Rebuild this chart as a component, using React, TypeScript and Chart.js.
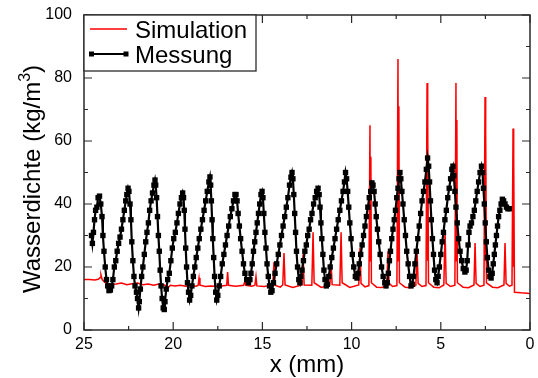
import React, { useEffect, useRef } from "react";
import { Chart, registerables } from "chart.js";

Chart.register(...registerables);

const FONT = '"Liberation Sans", Arial, Helvetica, sans-serif';

// Legend / series labels
const seriesLabels = ["Simulation", "Messung"];
const xTitle = "x (mm)";
const yTitleMain = "Wasserdichte (kg/m";
const yTitleSup = "3";
const yTitleEnd = ")";

// Axis ticks
const xMajorTicks = [0, 5, 10, 15, 20, 25];
const xMinorTicks = [2.5, 7.5, 12.5, 17.5, 22.5];
const yMajorTicks = [0, 20, 40, 60, 80, 100];
const yMinorTicks = [10, 30, 50, 70, 90];

// Simulation (red): [x mm, density]
const simulation: [number, number][] = [
  [25, 16], [24.7, 16], [24.4, 15.9], [24.2, 16.1], [24.1, 16.6], [24.05, 17.5], [23.98, 16], [23.8, 15],
  [23.5, 14.5], [23.2, 14.6], [22.9, 14.9], [22.6, 14.4], [22.3, 14.7], [22.0, 14.9], [21.7, 14.4],
  [21.4, 14.6], [21.1, 14.2], [20.8, 14.6], [20.5, 14.3], [20.3, 13.4], [20.15, 14.2], [19.9, 14.0],
  [19.6, 14.2], [19.3, 13.9], [19.0, 14.1], [18.7, 13.9], [18.6, 14.2], [18.55, 16.5], [18.5, 14.2],
  [18.2, 13.8], [17.9, 14.0], [17.6, 13.9], [17.3, 14.0], [17.0, 14.2], [16.95, 18.4], [16.9, 14.2],
  [16.5, 13.9], [16.05, 14.2], [15.98, 15.5], [15.93, 14.2], [15.6, 13.9], [15.42, 14.2], [15.36, 17],
  [15.31, 14], [14.9, 13.8], [14.42, 14.3], [14.35, 21.6], [14.29, 14.2], [14.0, 13.6], [13.86, 14.3],
  [13.79, 24.4], [13.73, 14.3], [13.3, 13.5], [12.79, 14.3], [12.72, 24], [12.66, 14.3], [12.23, 14.2],
  [12.16, 31], [12.1, 15], [11.7, 13.5], [11.22, 14.2], [11.15, 21], [11.09, 14.4], [10.66, 14.2],
  [10.59, 31], [10.53, 15], [10.1, 13.5], [9.6, 14.3], [9.53, 26], [9.47, 14.8], [9.25, 13.7],
  [9.03, 14.1], [8.97, 65], [8.95, 22], [8.92, 55], [8.89, 15], [8.6, 13.6], [8.3, 13.5], [8.03, 14.1],
  [7.96, 25], [7.9, 14.8], [7.7, 13.8], [7.46, 14.1], [7.4, 86], [7.38, 22], [7.35, 71], [7.32, 15],
  [7.0, 13.6], [6.7, 13.4], [6.4, 14.1], [6.33, 25], [6.27, 14.8], [6.05, 13.8], [5.83, 14.1],
  [5.77, 78.4], [5.75, 22], [5.72, 67], [5.69, 15], [5.4, 13.6], [5.1, 13.4], [4.83, 14.3],
  [4.76, 31.7], [4.7, 14.8], [4.45, 13.8], [4.21, 14.2], [4.15, 78.4], [4.13, 22], [4.1, 66.7],
  [4.07, 15], [3.75, 13.6], [3.45, 13.4], [3.14, 14.3], [3.08, 27.6], [3.02, 14.8], [2.8, 13.8],
  [2.58, 14.2], [2.52, 74], [2.5, 22], [2.47, 64], [2.44, 15], [2.1, 13.6], [1.8, 13.4], [1.46, 14.3],
  [1.4, 27.6], [1.34, 14.8], [1.15, 13.9], [1.01, 14.2], [0.95, 64], [0.93, 20], [0.9, 56], [0.87, 12],
  [0.5, 11.8], [0, 11.6],
];

// Measurement (black squares): [x mm, density]
const measurement: [number, number][] = [
  [24.58, 30], [24.53, 27.5], [24.47, 31], [24.41, 35], [24.35, 38], [24.28, 39], [24.21, 42], [24.13, 42.5], [24.06, 40],
  [23.99, 36], [23.94, 30], [23.88, 25], [23.81, 20], [23.74, 16], [23.67, 14], [23.6, 12.5], [23.52, 12.7], [23.45, 14],
  [23.38, 16], [23.3, 20], [23.22, 22], [23.14, 25], [23.06, 27.5], [22.98, 29.5], [22.9, 32], [22.82, 35], [22.74, 38], [22.66, 41], [22.6, 43], [22.53, 45], [22.48, 44],
  [22.42, 40], [22.37, 35], [22.32, 28], [22.26, 22], [22.2, 17], [22.14, 14], [22.06, 12], [22.0, 10], [21.94, 7], [21.9, 9],
  [21.84, 13], [21.77, 17], [21.7, 20], [21.62, 24], [21.54, 28], [21.47, 31], [21.39, 34], [21.32, 38], [21.24, 41], [21.16, 43.5], [21.08, 46], [21.02, 47.6], [20.98, 46],
  [20.93, 42], [20.88, 36], [20.83, 30], [20.78, 25], [20.73, 19], [20.68, 14], [20.62, 10], [20.56, 7], [20.5, 6.5], [20.46, 9],
  [20.39, 13], [20.31, 16], [20.22, 18], [20.13, 22], [20.05, 26], [19.97, 29], [19.88, 31], [19.79, 34], [19.71, 37], [19.62, 40], [19.54, 42], [19.47, 43.5], [19.42, 42],
  [19.38, 38], [19.34, 32], [19.3, 26], [19.25, 20], [19.2, 15], [19.14, 12], [19.08, 9.5], [19.02, 11],
  [18.95, 14], [18.87, 17], [18.79, 20], [18.71, 23], [18.62, 26], [18.54, 29], [18.45, 32], [18.36, 35], [18.27, 38], [18.18, 41], [18.09, 44], [18.0, 47], [17.94, 48.6], [17.9, 46],
  [17.86, 41], [17.82, 35], [17.78, 29], [17.73, 23], [17.68, 17], [17.62, 12], [17.56, 9.5], [17.5, 11],
  [17.42, 14], [17.34, 17], [17.25, 21], [17.16, 24], [17.07, 27], [16.98, 30], [16.89, 33], [16.8, 36], [16.71, 38.5], [16.62, 41], [16.54, 43], [16.48, 43], [16.42, 41],
  [16.36, 37], [16.29, 33], [16.22, 29], [16.14, 25], [16.06, 21], [15.98, 18], [15.88, 16], [15.78, 15], [15.7, 16],
  [15.64, 18], [15.57, 21], [15.5, 25], [15.43, 28], [15.36, 31], [15.29, 34], [15.22, 37], [15.15, 40], [15.08, 43], [15.02, 44], [14.97, 42],
  [14.92, 37], [14.86, 31], [14.8, 26], [14.74, 21], [14.67, 17], [14.6, 14], [14.53, 12], [14.46, 12.5],
  [14.38, 15], [14.29, 18], [14.2, 21], [14.11, 24], [14.02, 27], [13.93, 30], [13.84, 33], [13.75, 36], [13.66, 39], [13.57, 42], [13.48, 46], [13.4, 48.5], [13.34, 50], [13.29, 48],
  [13.24, 43], [13.19, 37], [13.14, 31], [13.09, 25], [13.03, 20], [12.96, 16], [12.9, 15], [12.85, 17],
  [12.78, 19], [12.7, 22], [12.62, 25], [12.54, 27], [12.46, 30], [12.38, 32], [12.3, 35], [12.22, 37], [12.13, 40], [12.04, 42], [11.96, 44], [11.88, 45], [11.82, 43],
  [11.77, 39], [11.72, 34], [11.67, 29], [11.61, 24], [11.55, 19], [11.49, 16], [11.42, 14], [11.36, 14.5],
  [11.28, 17], [11.2, 20], [11.11, 23], [11.02, 26], [10.93, 29], [10.84, 32], [10.75, 35], [10.66, 38], [10.57, 41], [10.48, 44], [10.4, 47], [10.34, 50], [10.28, 48],
  [10.22, 44], [10.16, 39], [10.1, 34], [10.03, 29], [9.96, 24], [9.88, 20], [9.79, 17], [9.7, 16.5], [9.64, 18],
  [9.57, 21], [9.49, 24], [9.41, 27], [9.33, 30], [9.25, 33], [9.17, 36], [9.09, 39], [9.01, 42], [8.93, 44], [8.86, 46.7], [8.8, 46], [8.74, 44],
  [8.68, 40], [8.62, 36], [8.55, 32], [8.48, 28], [8.4, 24], [8.32, 20], [8.23, 17], [8.14, 15], [8.07, 14], [8.0, 15],
  [7.94, 18], [7.88, 22], [7.82, 25], [7.75, 29], [7.68, 32], [7.61, 35], [7.54, 38], [7.47, 42], [7.4, 45], [7.34, 48], [7.29, 50], [7.24, 48],
  [7.18, 44], [7.12, 40], [7.05, 35], [6.98, 30], [6.91, 25], [6.83, 21], [6.75, 17], [6.67, 14], [6.6, 14.5],
  [6.53, 17], [6.45, 21], [6.37, 25], [6.29, 29], [6.21, 33], [6.13, 37], [6.05, 41], [5.97, 44], [5.89, 47], [5.81, 51], [5.74, 54.6], [5.68, 52],
  [5.63, 47], [5.58, 41], [5.53, 35], [5.47, 29], [5.41, 24], [5.35, 19], [5.28, 16], [5.21, 15], [5.15, 17],
  [5.08, 20], [5.0, 24], [4.92, 28], [4.85, 31], [4.77, 35], [4.69, 38], [4.61, 42], [4.53, 45], [4.45, 48], [4.38, 51], [4.32, 52], [4.27, 49],
  [4.21, 44], [4.15, 39], [4.08, 34], [4.0, 29], [3.92, 25], [3.83, 22], [3.74, 19.5], [3.65, 18.4], [3.58, 19],
  [3.52, 22], [3.47, 27], [3.42, 31], [3.36, 33], [3.28, 34], [3.2, 36], [3.12, 38], [3.04, 41], [2.96, 44], [2.88, 47], [2.8, 50], [2.72, 52], [2.66, 50],
  [2.61, 45], [2.56, 40], [2.51, 34], [2.45, 28], [2.39, 23], [2.32, 19], [2.25, 17], [2.18, 16.5], [2.12, 18],
  [2.06, 21], [2.0, 24], [1.94, 27], [1.88, 30], [1.82, 33], [1.76, 36], [1.69, 38], [1.62, 40], [1.55, 41.5], [1.48, 41], [1.4, 40], [1.32, 39], [1.24, 38.5], [1.16, 38.5],
];

const RED = "#ff0000";
const FRAME = "#2a2a2a";

const framePlugin = {
  id: "frameTicksLegendTitles",
  afterDatasetsDraw(chart: any) {
    const { ctx, chartArea } = chart;
    const { left, right, top, bottom } = chartArea;
    const xs = chart.scales.x;
    const ys = chart.scales.y;
    ctx.save();

    // frame
    ctx.strokeStyle = FRAME;
    ctx.lineWidth = 1.5;
    ctx.strokeRect(left, top, right - left, bottom - top);

    // ticks (inward, all four sides)
    ctx.lineWidth = 1.2;
    ctx.beginPath();
    const xt = (v: number, len: number) => {
      const p = xs.getPixelForValue(v);
      ctx.moveTo(p, bottom);
      ctx.lineTo(p, bottom - len);
      ctx.moveTo(p, top);
      ctx.lineTo(p, top + len);
    };
    const yt = (v: number, len: number) => {
      const p = ys.getPixelForValue(v);
      ctx.moveTo(left, p);
      ctx.lineTo(left + len, p);
      ctx.moveTo(right, p);
      ctx.lineTo(right - len, p);
    };
    xMajorTicks.forEach((v) => xt(v, 8));
    xMinorTicks.forEach((v) => xt(v, 4));
    yMajorTicks.forEach((v) => yt(v, 8));
    yMinorTicks.forEach((v) => yt(v, 4));
    ctx.stroke();

    // legend box
    const bw = 172;
    const bh = 56;
    ctx.fillStyle = "#ffffff";
    ctx.fillRect(left, top, bw, bh);
    ctx.strokeStyle = FRAME;
    ctx.lineWidth = 1.3;
    ctx.strokeRect(left, top, bw, bh);

    ctx.font = `24px ${FONT}`;
    ctx.textAlign = "left";
    ctx.textBaseline = "alphabetic";
    // entry 1
    ctx.strokeStyle = RED;
    ctx.lineWidth = 1.6;
    ctx.beginPath();
    ctx.moveTo(left + 6, top + 14);
    ctx.lineTo(left + 43, top + 14);
    ctx.stroke();
    ctx.fillStyle = "#000";
    ctx.fillText(seriesLabels[0], left + 51, top + 23);
    // entry 2
    ctx.strokeStyle = "#000";
    ctx.lineWidth = 1.8;
    ctx.beginPath();
    ctx.moveTo(left + 7, top + 39);
    ctx.lineTo(left + 42, top + 39);
    ctx.stroke();
    ctx.fillRect(left + 5, top + 36.5, 5, 5);
    ctx.fillRect(left + 39.5, top + 36.5, 5, 5);
    ctx.fillText(seriesLabels[1], left + 51, top + 48);

    // x title
    ctx.textAlign = "center";
    ctx.fillText(xTitle, (left + right) / 2, 372);

    // y title (rotated, with superscript)
    ctx.save();
    ctx.translate(40, 179);
    ctx.rotate(-Math.PI / 2);
    ctx.textAlign = "left";
    const big = `24px ${FONT}`;
    const small = `16px ${FONT}`;
    ctx.font = big;
    const w1 = ctx.measureText(yTitleMain).width;
    const w3 = ctx.measureText(yTitleEnd).width;
    ctx.font = small;
    const w2 = ctx.measureText(yTitleSup).width;
    let x0 = -(w1 + w2 + w3) / 2;
    ctx.font = big;
    ctx.fillText(yTitleMain, x0, 0);
    x0 += w1;
    ctx.font = small;
    ctx.fillText(yTitleSup, x0, -10);
    x0 += w2;
    ctx.font = big;
    ctx.fillText(yTitleEnd, x0, 0);
    ctx.restore();

    ctx.restore();
  },
};

export default function App() {
  const canvasRef = useRef<HTMLCanvasElement | null>(null);

  useEffect(() => {
    const canvas = canvasRef.current;
    if (!canvas) return;
    const chart = new Chart(canvas, {
      type: "line",
      data: {
        datasets: [
          {
            label: seriesLabels[0],
            data: simulation.map(([x, y]) => ({ x, y })),
            borderColor: RED,
            borderWidth: 1.5,
            pointRadius: 0,
            tension: 0,
            order: 1,
          },
          {
            label: seriesLabels[1],
            data: measurement.map(([x, y]) => ({ x, y })),
            borderColor: "#000",
            backgroundColor: "#000",
            borderWidth: 2.2,
            pointStyle: "rect",
            pointRadius: 3.8,
            pointBorderWidth: 0,
            pointBackgroundColor: "#000",
            tension: 0,
            order: 0,
          },
        ],
      },
      options: {
        responsive: false,
        animation: false,
        events: [],
        layout: { padding: { top: 15, right: 8, left: 0, bottom: 0 } },
        plugins: {
          legend: { display: false },
          tooltip: { enabled: false },
        },
        scales: {
          x: {
            type: "linear",
            reverse: true,
            min: 0,
            max: 25,
            grid: { display: false },
            border: { display: false },
            ticks: {
              stepSize: 5,
              autoSkip: false,
              maxRotation: 0,
              padding: -3,
              color: "#000",
              font: { family: FONT, size: 16 },
            },
            afterFit: (s: any) => {
              s.height = 48;
            },
          },
          y: {
            type: "linear",
            min: 0,
            max: 100,
            grid: { display: false },
            border: { display: false },
            ticks: {
              stepSize: 20,
              autoSkip: false,
              padding: 4,
              color: "#000",
              font: { family: FONT, size: 16 },
            },
            afterFit: (s: any) => {
              s.width = 84;
            },
          },
        },
      },
      plugins: [framePlugin],
    });
    return () => chart.destroy();
  }, []);

  return (
    <div style={{ position: "fixed", left: 0, top: 0, width: 538, height: 378, background: "#fff" }}>
      <canvas ref={canvasRef} width={538} height={378} style={{ width: 538, height: 378, display: "block" }} />
    </div>
  );
}
